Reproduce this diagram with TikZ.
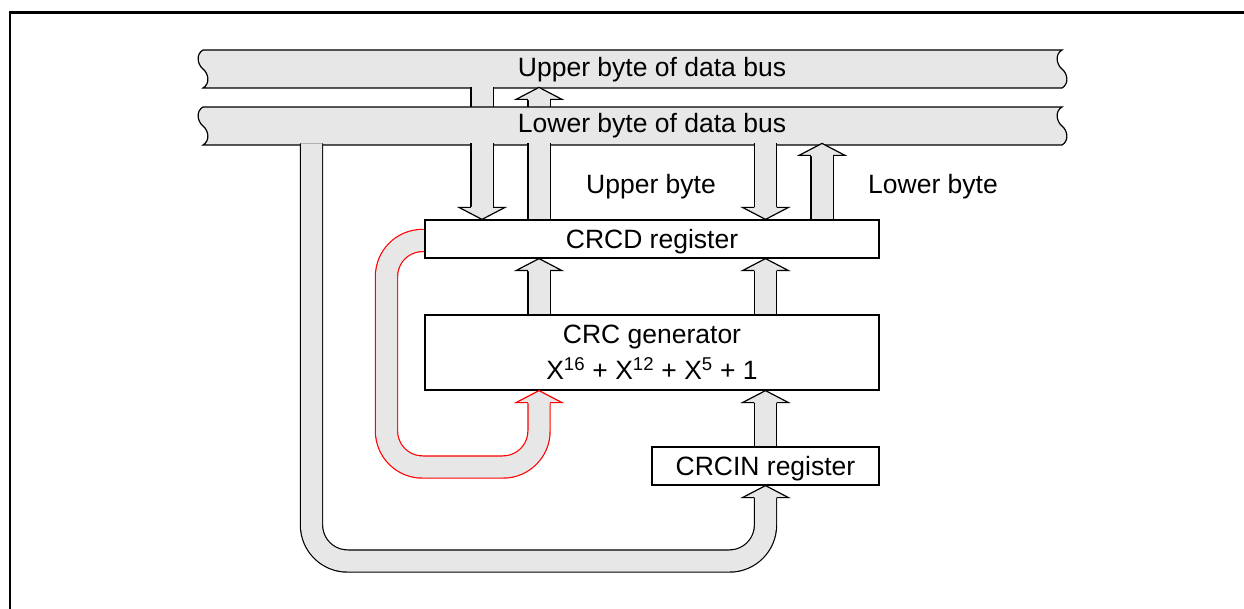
\documentclass[tikz,border=0pt]{standalone}
\usepackage{fontspec}
\setmainfont{Liberation Sans}
\usetikzlibrary{calc}

\definecolor{busgray}{RGB}{231,231,231}
\definecolor{loopred}{RGB}{255,0,0}

\tikzset{
  reg/.style={draw, fill=white, line width=1.2pt, inner sep=0pt},
  bus/.style={draw, fill=busgray, line width=1.2pt},
  band/.style={line width=1.2pt, double=busgray, double distance=21pt},
}

% wide open-based arrow head, tip at #1
\newcommand{\fathead}[3]{%
  \begin{scope}[shift={(#1)}, rotate=#2]
    \fill[busgray] (-10.5,13) -- (-10.5,12) -- (-23,12) -- (0,0) -- (23,12) -- (10.5,12) -- (10.5,13) -- cycle;
    \draw[#3, line width=1.2pt, line join=miter] (-11.1,12) -- (-23,12) -- (0,0) -- (23,12) -- (11.1,12);
  \end{scope}}

% bus bar with torn ends, top edge at y=#1
\newcommand{\busbar}[1]{%
  \draw[bus, shift={(0,#1)}] (203,0) -- (1062,0)
    .. controls (1055,4) and (1056,14) .. (1062,19)
    .. controls (1068,24) and (1069,34) .. (1062,38) -- (203,38)
    .. controls (210,34) and (209,24) .. (203,19)
    .. controls (197,14) and (196,4) .. (203,0) -- cycle;}

\begin{document}
\begin{tikzpicture}[x=1pt, y=-1pt, font=\fontsize{26.5}{36}\selectfont]
  \clip (0,0) rectangle (1244,609);
  \draw[line width=2.5pt] (10,12.5) rectangle (1270,640);

  % columns and levels
  \coordinate (colA) at (482,0);
  \coordinate (colB) at (539,0);
  \coordinate (colC) at (765.5,0);
  \coordinate (colD) at (822,0);
  \coordinate (colL) at (311.5,0);
  \coordinate (colR) at (386.5,0);
  \coordinate (ubus) at (0,87.4);
  \coordinate (lbus) at (0,143.4);
  \coordinate (redtop) at (0,240.5);
  \coordinate (redbot) at (0,467);
  \coordinate (loopbot) at (0,561);

  % registers
  \node[reg, minimum width=454pt, minimum height=38pt, text height=19pt, text depth=0pt] (crcd) at (652,239) {CRCD register};
  \node[reg, minimum width=454pt, minimum height=75pt, align=center] (crcgen) at (652,352.5)
    {CRC generator\\X\textsuperscript{16} + X\textsuperscript{12} + X\textsuperscript{5} + 1};
  \node[reg, minimum width=227pt, minimum height=38pt, text height=19pt, text depth=0pt] (crcin) at (765.5,466) {CRCIN register};

  % upper bus and what runs under the lower bus
  \busbar{50}
  \node[anchor=base] (upperbus) at (652,77) {Upper byte of data bus};
  \draw[band] (colA |- ubus) -- (colA |- lbus);
  \draw[band, shorten <=0.6pt] (colB |- crcd.north) -- ($(colB |- ubus)+(0,12.6)$);
  \fathead{colB |- ubus}{0}{black}

  % lower bus
  \busbar{107}
  \node[anchor=base] (lowerbus) at (652,133) {Lower byte of data bus};

  % bus <-> CRCD
  \draw[band] (colA |- lbus) -- ($(colA |- crcd.north)+(0,-12)$);
  \fathead{colA |- crcd.north}{180}{black}
  \draw[band, shorten <=0.6pt] (colB |- crcd.north) -- (colB |- lbus);
  \draw[band] (colC |- lbus) -- ($(colC |- crcd.north)+(0,-12)$);
  \fathead{colC |- crcd.north}{180}{black}
  \draw[band, shorten <=0.6pt] (colD |- crcd.north) -- ($(colD |- lbus)+(0,12.6)$);
  \fathead{colD |- lbus}{0}{black}
  \node[anchor=base] (upperbyte) at (651,194) {Upper byte};
  \node[anchor=base] (lowerbyte) at (933,194) {Lower byte};

  % generator -> CRCD
  \draw[band, shorten <=0.6pt] (colB |- crcgen.north) -- ($(colB |- crcd.south)+(0,12)$);
  \fathead{colB |- crcd.south}{0}{black}
  \draw[band, shorten <=0.6pt] (colC |- crcgen.north) -- ($(colC |- crcd.south)+(0,12)$);
  \fathead{colC |- crcd.south}{0}{black}

  % CRCIN -> generator
  \draw[band, shorten <=0.6pt] (colC |- crcin.north) -- ($(colC |- crcgen.south)+(0,12)$);
  \fathead{colC |- crcgen.south}{0}{black}

  % lower bus -> CRCIN
  \draw[band, rounded corners=36pt] (colL |- lbus) -- (colL |- loopbot) -- (colC |- loopbot)
    -- ($(colC |- crcin.south)+(0,12)$);
  \fathead{colC |- crcin.south}{0}{black}

  % CRCD -> generator (feedback)
  \draw[band, draw=loopred, rounded corners=36pt, shorten <=0.6pt] (crcd.west |- redtop)
    -- (colR |- redtop) -- (colR |- redbot) -- (colB |- redbot) -- ($(colB |- crcgen.south)+(0,12)$);
  \fathead{colB |- crcgen.south}{0}{loopred}
\end{tikzpicture}
\end{document}
